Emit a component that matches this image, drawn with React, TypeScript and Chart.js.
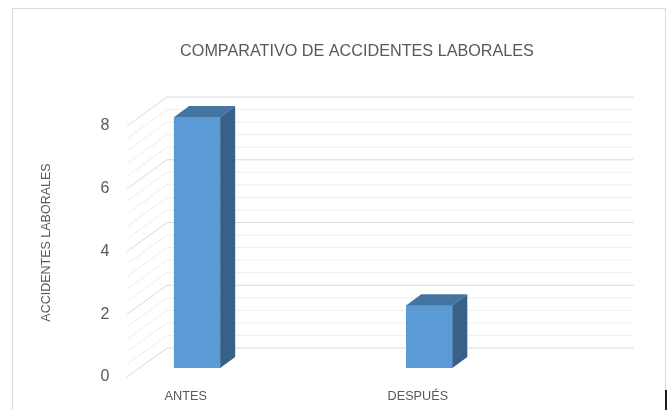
import { useEffect, useRef } from 'react';
import { Chart, registerables } from 'chart.js';

Chart.register(...registerables);

// ---- data ----
const categories: string[] = ['ANTES', 'DESPUÉS'];
const accidentes: number[] = [8, 2];
const yTickValues: number[] = [0, 2, 4, 6, 8];
const minorStep = 0.4;

const chartTitle = 'COMPARATIVO DE ACCIDENTES LABORALES';
const yTitle = 'ACCIDENTES LABORALES';

// ---- styling ----
const FONT = "'Liberation Sans', Arial, sans-serif";
const TEXT = '#595959';
const FRONT_FACE = '#5B9BD5';
const TOP_FACE = '#4474A2';
const SIDE_FACE = '#386189';
const MAJOR_GRID = '#D9D9D9';
const MINOR_GRID = '#EEEEEE';

// 3D projection offsets relative to the bar-front plane (the chart area)
const FRONT = { dx: -12.4, dy: 9 };
const BACK = { dx: 27.6, dy: -20 };
const BAR_DEPTH = { dx: 15, dy: -11 };

const excel3d = {
  id: 'excel3d',
  beforeDraw(chart: any) {
    const ctx = chart.ctx;
    ctx.save();
    ctx.fillStyle = '#ffffff';
    ctx.fillRect(0, 0, chart.width, chart.height);
    ctx.strokeStyle = '#D9D9D9';
    ctx.lineWidth = 1;
    ctx.strokeRect(12.5, 8.5, 653, 420);
    ctx.fillStyle = '#1a1a1a';
    ctx.fillRect(665, 390, 2, 20);
    ctx.restore();
  },
  beforeDatasetsDraw(chart: any) {
    const { ctx, chartArea, scales } = chart;
    const y = scales.y;
    const n = Math.round((y.max - y.min) / minorStep);
    ctx.save();
    ctx.lineWidth = 1;
    for (const pass of [false, true]) {
      for (let i = 0; i <= n; i++) {
        const v = y.min + i * minorStep;
        const major = yTickValues.some((t) => Math.abs(t - v) < 1e-6);
        if (major !== pass) continue;
        const py = y.getPixelForValue(v);
        ctx.strokeStyle = major ? MAJOR_GRID : MINOR_GRID;
        ctx.beginPath();
        ctx.moveTo(chartArea.left + FRONT.dx, py + FRONT.dy);
        ctx.lineTo(chartArea.left + BACK.dx, py + BACK.dy);
        ctx.lineTo(chartArea.right + BACK.dx, py + BACK.dy);
        ctx.stroke();
      }
    }
    ctx.restore();
  },
  afterDatasetsDraw(chart: any) {
    const ctx = chart.ctx;
    const meta = chart.getDatasetMeta(0);
    ctx.save();
    meta.data.forEach((bar: any) => {
      const { x, y, base, width } = bar.getProps(['x', 'y', 'base', 'width'], true);
      const l = x - width / 2;
      const r = x + width / 2;
      ctx.fillStyle = SIDE_FACE;
      ctx.beginPath();
      ctx.moveTo(r, y);
      ctx.lineTo(r + BAR_DEPTH.dx, y + BAR_DEPTH.dy);
      ctx.lineTo(r + BAR_DEPTH.dx, base + BAR_DEPTH.dy);
      ctx.lineTo(r, base);
      ctx.closePath();
      ctx.fill();
      ctx.fillStyle = TOP_FACE;
      ctx.beginPath();
      ctx.moveTo(l, y);
      ctx.lineTo(l + BAR_DEPTH.dx, y + BAR_DEPTH.dy);
      ctx.lineTo(r + BAR_DEPTH.dx, y + BAR_DEPTH.dy);
      ctx.lineTo(r, y);
      ctx.closePath();
      ctx.fill();
    });
    ctx.restore();
  },
};

export default function App() {
  const canvasRef = useRef<HTMLCanvasElement | null>(null);

  useEffect(() => {
    if (!canvasRef.current) return;
    const chart = new Chart(canvasRef.current, {
      type: 'bar',
      data: {
        datasets: [
          {
            label: yTitle,
            data: accidentes.map((v, i) => ({ x: i, y: v })) as any,
            backgroundColor: FRONT_FACE,
            borderWidth: 0,
            barThickness: 46,
          },
        ],
      },
      options: {
        animation: false,
        responsive: false,
        layout: { padding: { left: 108, right: 64, top: 0, bottom: 4.3 } },
        plugins: {
          legend: { display: false },
          tooltip: { enabled: false },
          title: {
            display: true,
            text: chartTitle,
            color: TEXT,
            font: { family: FONT, size: 16.2, weight: 'normal' },
            padding: { top: 42.3, bottom: 55.3 },
          },
        },
        scales: {
          x: {
            type: 'linear',
            offset: false,
            min: -0.249,
            max: 1.761,
            afterBuildTicks: (s: any) => {
              s.ticks = categories.map((_, i) => ({ value: i }));
            },
            afterFit: (s: any) => {
              s.height = 37.7;
            },
            ticks: {
              callback: (v: any) => categories[v] ?? '',
              labelOffset: -11.5,
              padding: 21.1,
              color: TEXT,
              font: { family: FONT, size: 12.7 },
              maxRotation: 0,
              autoSkip: false,
            },
            grid: { display: false, drawTicks: false },
            border: { display: false },
          },
          y: {
            min: 0,
            max: 8,
            afterBuildTicks: (s: any) => {
              s.ticks = yTickValues.map((v) => ({ value: v }));
            },
            afterFit: (s: any) => {
              s.width = 31.4;
            },
            ticks: {
              mirror: true,
              crossAlign: 'far',
              labelOffset: 9,
              padding: -38.9,
              color: TEXT,
              font: { family: FONT, size: 16 },
            },
            grid: { display: false, drawTicks: false },
            border: { display: false },
            title: {
              display: true,
              text: yTitle,
              color: TEXT,
              font: { family: FONT, size: 12.5 },
              padding: { top: -68.5, bottom: 0 },
            },
          },
        },
      },
      plugins: [excel3d],
    });
    return () => chart.destroy();
  }, []);

  return (
    <div style={{ position: 'absolute', left: 0, top: 0, width: 670, height: 410 }}>
      <canvas ref={canvasRef} width={670} height={410} />
    </div>
  );
}
